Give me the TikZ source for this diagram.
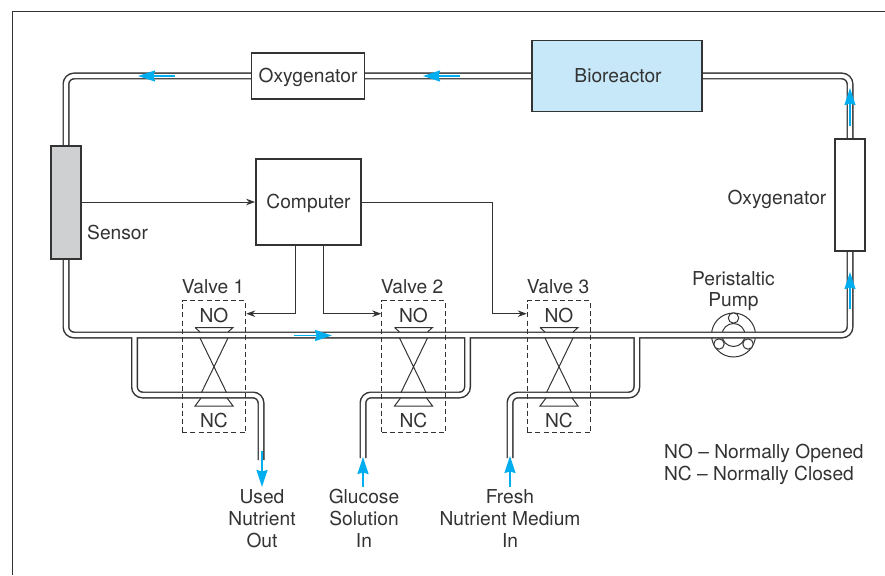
\documentclass[tikz,border=0pt]{standalone}
\usepackage{fontspec}
\setmainfont{TeX Gyre Heros}
\usetikzlibrary{arrows.meta,backgrounds}
\definecolor{ink}{HTML}{333333}
\definecolor{flow}{HTML}{00AEEF}
\definecolor{reactor}{HTML}{C7E8F8}
\definecolor{sensorgray}{HTML}{CFD0D2}
\tikzset{
  x=1pt,y=-1pt,
  every node/.style={font=\fontsize{19.2}{22}\selectfont,text=ink,inner sep=0pt,align=center},
  unit/.style={draw=ink,line width=1.8pt,fill=white},
  pipe/.style={draw=ink,line width=7pt,rounded corners=8pt},
  pipeinner/.style={draw=white,line width=4.1pt,rounded corners=8pt},
  wire/.style={draw=ink,line width=1pt,-{Stealth[length=9pt,width=6.5pt]}},
  flowarrow/.style={draw=flow,line width=1.8pt,-{Stealth[length=17pt,width=11pt,inset=1.5pt]}},
  valvebox/.style={draw=ink,line width=1pt,dash pattern=on 5pt off 3.2pt,minimum width=63.5pt,minimum height=132pt},
  valvepart/.style={draw=ink,line width=1pt},
}
\begin{document}
\begin{tikzpicture}
\useasboundingbox (0,0) rectangle (885,575);
\draw[ink,line width=1pt] (885,12) -- (12,12) -- (12,575);

% units
\node[unit,fill=sensorgray,minimum width=30pt,minimum height=113pt] (sensor) at (66,202.5) {};
\node[unit,minimum width=113pt,minimum height=46pt] (oxyA) at (308,76) {};
\node[unit,fill=reactor,minimum width=170pt,minimum height=71pt] (bio) at (617,76) {};
\node[unit,minimum width=30pt,minimum height=112pt] (oxyB) at (850,195) {};
\node[unit,minimum width=105pt,minimum height=86pt] (comp) at (308.5,202) {};
\node at (308,77.5) {Oxygenator};
\node at (618,76) {Bioreactor};
\node at (308.5,203) {Computer};

% pump centre, branch junctions, pipe ends and corners
\coordinate (pump) at (733.5,335);
\coordinate (bL) at (66,335);
\coordinate (bR) at (850,335);
\coordinate (j1) at (134.5,335);
\coordinate (j2) at (467.5,335);
\coordinate (j3) at (636.8,335);
\coordinate (e1) at (261,460);
\coordinate (e2) at (363,458);
\coordinate (e3) at (510,458);

\begin{scope}[on background layer]
  \draw[ink,line width=1pt] (pump) circle (22);
  \draw[ink,line width=1pt] (pump) circle (11.5);
  \draw[ink,line width=1pt,fill=white] (733.5,318) circle (5.2);
  \draw[ink,line width=1pt,fill=white] (719,344) circle (5.2);
  \draw[ink,line width=1pt,fill=white] (748,344) circle (5.2);
  \foreach \st in {pipe,pipeinner}{
    \draw[\st] (j1) |- (e1 |- 0,395) -- (e1);
    \draw[\st] (j2) |- (e2 |- 0,395) -- (e2);
    \draw[\st] (j3) |- (e3 |- 0,395) -- (e3);
    \draw[\st] (bio.west) -- (oxyA.west) -| (sensor.north);
    \draw[\st] (bio.east) -| (oxyB.north);
    \draw[\st] (sensor.south) -- (bL) -- (bR) -- (oxyB.south);
  }
\end{scope}

% valves
\foreach \n/\vx/\lab in {1/214/213,2/413.5/412,3/559/558}{
  \node[valvebox] (valve\n) at (\vx,366.7) {};
  \node at (\lab,287) {Valve \n};
  \node at (\vx,315.5) {NO};
  \node at (\vx,420) {NC};
  \draw[valvepart] (\vx-19,327.5) -- (\vx+19,327.5) -- (\vx+14,332) (\vx-19,327.5) -- (\vx-14,332);
  \draw[valvepart] (\vx-14,338) -- (\vx+12.5,392.5) (\vx+14,338) -- (\vx-12.5,392.5);
  \draw[valvepart] (\vx-13,398) -- (\vx-19,406) -- (\vx+19,406) -- (\vx+13,398);
}

% signal lines
\coordinate (cL) at (295.5,245);
\coordinate (cR) at (323.5,245);
\coordinate (v1in) at (valve1.east |- 0,313.7);
\coordinate (v2in) at (valve2.west |- 0,313.7);
\coordinate (v3in) at (valve3.west |- 0,313.7);
\coordinate (cE) at (492.8,202);
\draw[wire] (sensor.east |- comp.west) -- (comp.west);
\draw[wire] (cL) |- (v1in);
\draw[wire] (cR) |- (v2in);
\draw[wire] (comp.east) -- (cE) |- (v3in);

% flow arrows
\coordinate (a1s) at (175,76);   \coordinate (a1e) at (138,76);
\coordinate (a2s) at (460,76);   \coordinate (a2e) at (423,76);
\coordinate (a3s) at (294,335.5);\coordinate (a3e) at (332,335.5);
\coordinate (a4s) at (850,126);  \coordinate (a4e) at (850,88);
\coordinate (a5s) at (850,309);  \coordinate (a5e) at (850,272);
\coordinate (a6s) at (262,451);  \coordinate (a6e) at (262,487);
\coordinate (a7s) at (363,487);  \coordinate (a7e) at (363,457);
\coordinate (a8s) at (510,487);  \coordinate (a8e) at (510,456);
\foreach \k in {1,...,8}{\draw[flowarrow] (a\k s) -- (a\k e);}

% labels
\node[anchor=west] (sensorlab) at (87,232) {Sensor};
\node[anchor=east] (oxylab) at (826.5,199.5) {Oxygenator};
\node (pumplab) at (733.5,291) {Peristaltic\\[-1pt]Pump};
\node[anchor=north] (l1) at (262,489.5) {Used\\Nutrient\\Out};
\node[anchor=north] (l2) at (364,488.5) {Glucose\\Solution\\In};
\node[anchor=north] (l3) at (510,489.5) {Fresh\\Nutrient Medium\\In};
\node[anchor=west,align=left] (legend) at (664,464.5) {NO -- Normally Opened\\NC -- Normally Closed};
\end{tikzpicture}
\end{document}
